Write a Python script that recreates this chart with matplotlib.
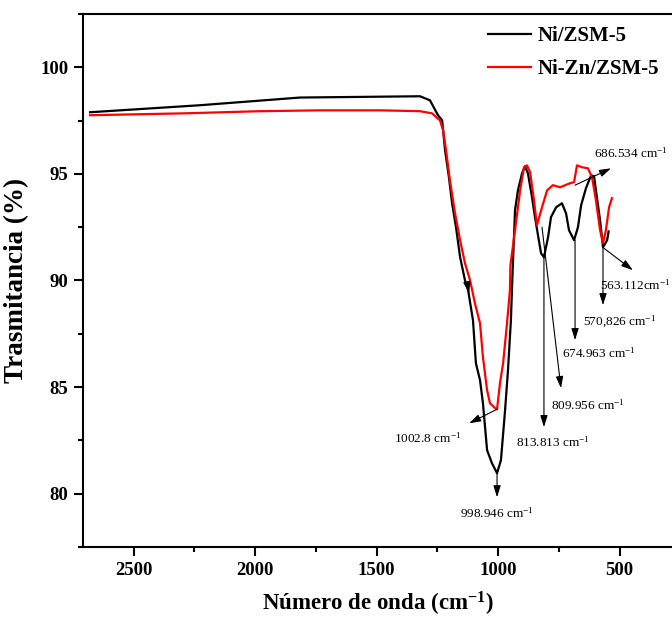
import matplotlib
matplotlib.use("Agg")
import matplotlib.pyplot as plt
from matplotlib.ticker import MultipleLocator

plt.rcParams['font.family'] = ['Liberation Serif', 'DejaVu Serif']
plt.rcParams['mathtext.fontset'] = 'custom'
plt.rcParams['mathtext.rm'] = 'Liberation Serif'
plt.rcParams['mathtext.bf'] = 'Liberation Serif:bold'
plt.rcParams['mathtext.default'] = 'regular'

# espectros FTIR
ni_x = [2679, 2226, 1815, 1486, 1321, 1280, 1247, 1230, 1218, 1202, 1189, 1173, 1156,
        1136, 1123, 1103, 1091, 1074, 1062, 1045, 1025, 1004, 988, 971, 959, 947, 940,
        930, 918, 901, 889, 877, 860, 848, 823, 811, 794, 782, 761, 737, 720, 708, 687,
        671, 658, 638, 617, 605, 593, 580, 568, 551, 545]
ni_y = [97.89, 98.22, 98.58, 98.62, 98.64, 98.45, 97.75, 97.51, 96.11, 94.84, 93.62, 92.50, 91.09,
        90.01, 89.54, 88.13, 86.12, 85.32, 84.24, 82.04, 81.43, 80.96, 81.57, 83.91, 85.79, 88.13, 90.40,
        93.29, 94.23, 95.03, 95.36, 95.03, 93.90, 92.97, 91.28, 91.09, 92.03, 92.97, 93.43, 93.62, 93.15, 92.36, 91.89,
        92.50, 93.53, 94.33, 94.93, 94.89, 93.90, 92.82, 91.56, 91.89, 92.30]

nizn_x = [2679, 2288, 1979, 1733, 1486, 1321, 1272, 1239, 1226, 1214, 1198, 1177, 1156,
          1136, 1115, 1095, 1074, 1062, 1045, 1033, 1012, 1004, 992, 979, 963, 951, 949,
          930, 909, 893, 881, 868, 852, 840, 819, 798, 774, 745, 704, 687, 675, 654, 630,
          613, 597, 580, 568, 556, 543, 531]
nizn_y = [97.75, 97.84, 97.94, 97.98, 97.98, 97.94, 97.84, 97.51, 97.05, 96.11, 94.70, 93.15, 91.89,
          90.81, 90.01, 88.93, 87.99, 86.40, 84.85, 84.24, 84.01, 83.96, 85.18, 86.12, 87.99, 89.54, 90.71,
          92.36, 94.23, 95.31, 95.40, 95.08, 93.76, 92.59, 93.43, 94.23, 94.47, 94.37, 94.56, 94.61, 95.40, 95.31, 95.26,
          94.84, 93.76, 92.36, 91.75, 92.36, 93.43, 93.86]

# etiquetas de picos: texto, inicio de flecha, punta, posicion del texto
pk_labels = ['1002.8 cm$^{-1}$', '998.946 cm$^{-1}$', '813.813 cm$^{-1}$', '809.956 cm$^{-1}$',
             '674.963 cm$^{-1}$', '570,826 cm$^{-1}$', '563.112cm$^{-1}$', '686.534 cm$^{-1}$']
pk_start = [(1004, 83.96), (1004, 80.96), (811, 91.09), (819, 92.50),
            (683, 91.89), (568, 91.56), (564, 91.51), (683, 94.47)]
pk_tip = [(1119, 83.30), (1004, 79.83), (811, 83.12), (741, 84.95),
          (683, 87.20), (568, 88.84), (445, 90.48), (535, 95.26)]
pk_text = [(1288, 82.60), (1004, 79.08), (774, 82.41), (630, 84.15),
           (584, 86.59), (500, 88.04), (436, 89.78), (453, 95.97)]

fig = plt.figure(figsize=(6.72, 6.29), dpi=100)
ax = fig.add_axes([0.1235, 0.1304, 0.8765, 0.8474])

ax.plot(ni_x, ni_y, color='black', lw=1.6, label='Ni/ZSM-5')
ax.plot(nizn_x, nizn_y, color='red', lw=1.6, label='Ni-Zn/ZSM-5')

for lab, s, t, p in zip(pk_labels, pk_start, pk_tip, pk_text):
    ax.annotate('', xy=t, xytext=s,
                arrowprops=dict(arrowstyle='-|>,head_length=0.7,head_width=0.22',
                                color='black', lw=0.8, shrinkA=0, shrinkB=0))
    ax.text(p[0], p[1], lab, fontsize=9.5, ha='center', va='center')

# flecha pequena sobre la curva negra
ax.annotate('', xy=(1119, 89.40), xytext=(1128, 89.92),
            arrowprops=dict(arrowstyle='-|>,head_length=0.7,head_width=0.22',
                            color='black', lw=0.8, shrinkA=0, shrinkB=0))

ax.set_xlim(2708, 284)
ax.set_ylim(77.5, 102.5)
ax.xaxis.set_major_locator(MultipleLocator(500))
ax.xaxis.set_minor_locator(MultipleLocator(250))
ax.yaxis.set_major_locator(MultipleLocator(5))
ax.yaxis.set_minor_locator(MultipleLocator(2.5))
ax.tick_params(which='major', direction='out', length=6.5, width=1.5, labelsize=13.5, pad=4)
ax.tick_params(which='minor', direction='out', length=3.5, width=1.5)
for lb in ax.get_xticklabels() + ax.get_yticklabels():
    lb.set_fontweight('bold')
for sp in ['left', 'bottom', 'top']:
    ax.spines[sp].set_linewidth(1.5)
ax.spines['right'].set_visible(False)

ax.set_xlabel(r'Número de onda (cm$^{\mathbf{-1}}$)', fontsize=16.5, fontweight='bold', labelpad=8)
ax.set_ylabel('Trasmitancia (%)', fontsize=19.5, fontweight='bold', labelpad=8)

leg = ax.legend(loc='upper right', bbox_to_anchor=(1.01, 1.012), frameon=False,
                prop={'weight': 'bold', 'size': 15}, handlelength=2.1,
                handletextpad=0.3, labelspacing=0.6)

fig.savefig('out.png', dpi=100)
